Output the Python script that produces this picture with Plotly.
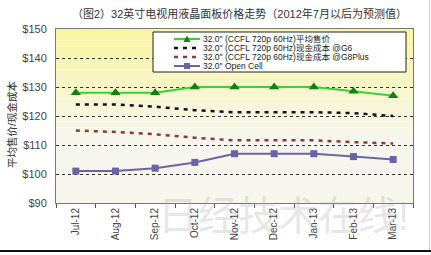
import plotly.graph_objects as go

categories = ["Jul-12", "Aug-12", "Sep-12", "Oct-12", "Nov-12", "Dec-12", "Jan-13", "Feb-13", "Mar-13"]
avg_price = [128, 128, 128, 130, 130, 130, 130, 128.5, 127]
cost_g6 = [124, 124, 123.2, 122, 121.3, 121.3, 121.3, 121, 120]
cost_g8plus = [115, 114.5, 113.7, 112.5, 111.6, 111.6, 111.6, 111, 110.5]
open_cell = [101, 101, 102, 104, 107, 107, 107, 106, 105]

legend_names = [
    '32.0" (CCFL 720p 60Hz)平均售价',
    '32.0" (CCFL 720p 60Hz)现金成本 @G6',
    '32.0" (CCFL 720p 60Hz)现金成本 @G8Plus',
    '32.0" Open Cell',
]
title_text = "（图2）32英寸电视用液晶面板价格走势（2012年7月以后为预测值）"
y_title = "平均售价/现金成本"
y_ticks = [90, 100, 110, 120, 130, 140, 150]
y_ticktext = ["$" + str(v) for v in y_ticks]

FONT = "Liberation Sans, Arial, Noto Sans CJK SC, sans-serif"
W, H = 431, 255
L, R, T, B = 56, 18, 29, 52
PW, PH = W - L - R, H - T - B

green_line = "#39d139"
green_mk = "#13800f"
purple = "#6a63a6"
g6_col = "#111122"
g8_col = "#8a3c3c"

fig = go.Figure()
fig.add_trace(go.Scatter(x=categories, y=avg_price, mode="lines+markers",
                         line=dict(color=green_line, width=2),
                         marker=dict(symbol="triangle-up", size=9, color=green_mk),
                         name=legend_names[0]))
fig.add_trace(go.Scatter(x=categories, y=cost_g6, mode="lines",
                         line=dict(color=g6_col, width=2.5, dash="4px,5px"),
                         name=legend_names[1]))
fig.add_trace(go.Scatter(x=categories, y=cost_g8plus, mode="lines",
                         line=dict(color=g8_col, width=2.5, dash="4px,5px"),
                         name=legend_names[2]))
fig.add_trace(go.Scatter(x=categories, y=open_cell, mode="lines+markers",
                         line=dict(color=purple, width=2),
                         marker=dict(symbol="square", size=7, color=purple),
                         name=legend_names[3]))

shapes = []
# gradient background of plot area
N = 30
top = (250, 245, 158)
bot = (246, 246, 238)
for i in range(N):
    f0 = i / N
    f1 = (i + 1) / N
    t = (f0 + f1) / 2
    t2 = min(1.0, t * 1.6)
    c = tuple(int(round(top[k] + (bot[k] - top[k]) * t2)) for k in range(3))
    shapes.append(dict(type="rect", xref="x domain", yref="y domain",
                       x0=0, x1=1, y0=1 - f1, y1=1 - f0 + 0.001,
                       fillcolor="rgb(%d,%d,%d)" % c, line=dict(width=0), layer="below"))

def px_x(px):
    return (px - L) / PW

def px_y(py):
    return (H - B - py) / PH

# legend box
lx0, lx1, ly0, ly1 = 153, 406, 32, 72
shapes.append(dict(type="rect", xref="paper", yref="paper",
                   x0=px_x(lx0), x1=px_x(lx1), y0=px_y(ly1), y1=px_y(ly0),
                   fillcolor="white", line=dict(color="#222", width=1)))
rows = [39, 48, 57, 66]
sx0, sx1 = 174, 200
styles = [(green_line, 2, "solid"), (g6_col, 2.5, "4px,5px"), (g8_col, 2.5, "4px,5px"), (purple, 2, "solid")]
annotations = []
for i, yrow in enumerate(rows):
    col, wd, dsh = styles[i]
    shapes.append(dict(type="line", xref="paper", yref="paper",
                       x0=px_x(sx0), x1=px_x(sx1), y0=px_y(yrow), y1=px_y(yrow),
                       line=dict(color=col, width=wd, dash=dsh)))
    annotations.append(dict(x=px_x(sx1 + 1), y=px_y(yrow), xref="paper", yref="paper",
                            text=legend_names[i], showarrow=False, xanchor="left",
                            yanchor="middle", font=dict(family=FONT, size=8.5, color="#222")))
# legend markers
cx = (sx0 + sx1) / 2
shapes.append(dict(type="path", xref="paper", yref="paper",
                   path="M %f %f L %f %f L %f %f Z" % (
                       px_x(cx - 3.5), px_y(rows[0] + 3), px_x(cx + 3.5), px_y(rows[0] + 3),
                       px_x(cx), px_y(rows[0] - 3.5)),
                   fillcolor=green_mk, line=dict(width=0)))
shapes.append(dict(type="rect", xref="paper", yref="paper",
                   x0=px_x(cx - 3), x1=px_x(cx + 3), y0=px_y(rows[3] + 3), y1=px_y(rows[3] - 3),
                   fillcolor=purple, line=dict(width=0)))

# outer frame lines
shapes.append(dict(type="line", xref="paper", yref="paper",
                   x0=px_x(0), x1=px_x(W), y0=px_y(251), y1=px_y(251),
                   line=dict(color="#111", width=2)))
shapes.append(dict(type="line", xref="paper", yref="paper",
                   x0=px_x(429.5), x1=px_x(429.5), y0=px_y(0), y1=px_y(250),
                   line=dict(color="#cfcfcf", width=1)))

annotations.append(dict(x=px_x(240), y=px_y(14), xref="paper", yref="paper",
                        text=title_text, showarrow=False, xanchor="center", yanchor="middle",
                        font=dict(family=FONT, size=11, color="#333")))
annotations.append(dict(x=px_x(12), y=px_y(125), xref="paper", yref="paper",
                        text=y_title, showarrow=False, textangle=-90,
                        xanchor="center", yanchor="middle",
                        font=dict(family=FONT, size=10.5, color="#333")))
annotations.append(dict(x=px_x(283), y=px_y(216), xref="paper", yref="paper",
                        text="日经技术在线!", showarrow=False, xanchor="center", yanchor="middle",
                        font=dict(family=FONT, size=40, color="rgba(170,170,170,0.3)")))

fig.update_layout(
    width=W, height=H,
    margin=dict(l=L, r=R, t=T, b=B, pad=0),
    paper_bgcolor="white", plot_bgcolor="rgba(0,0,0,0)",
    showlegend=False,
    shapes=shapes, annotations=annotations,
    font=dict(family=FONT, size=10, color="#333"),
)
fig.update_xaxes(type="category", range=[-0.5, 8.5], tickangle=-90,
                 ticks="outside", tickson="boundaries", ticklen=4, tickcolor="#555",
                 showgrid=False, showline=True, linecolor="#777", linewidth=1, mirror=True,
                 tickfont=dict(family=FONT, size=10, color="#444"), zeroline=False)
fig.update_yaxes(range=[90, 150], tickvals=y_ticks, ticktext=y_ticktext,
                 showgrid=True, gridcolor="#333", griddash="dot", gridwidth=1,
                 showline=True, linecolor="#777", linewidth=1, mirror=True,
                 ticks="", ticklabelstandoff=6,
                 tickfont=dict(family=FONT, size=11, color="#444"), zeroline=False)

fig.write_html("out.html")
